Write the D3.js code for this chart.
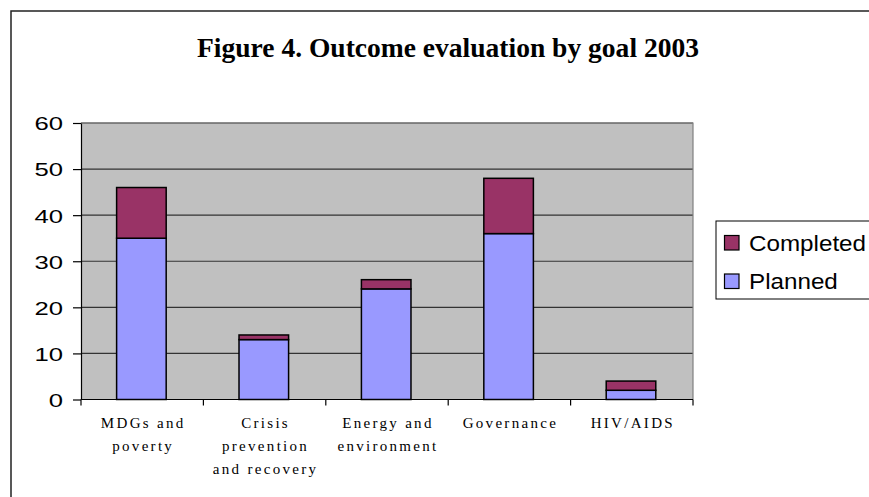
<!DOCTYPE html>
<html><head><meta charset="utf-8">
<script src="https://cdn.jsdelivr.net/npm/d3@7"></script>
<style>body{margin:0;background:#fff}svg{display:block}</style>
</head><body>
<script>
const categories = [["MDGs and","poverty"],["Crisis","prevention","and recovery"],["Energy and","environment"],["Governance"],["HIV/AIDS"]];
const planned   = [35, 13, 24, 36, 2];
const completed = [11, 1, 2, 12, 2];
const yTicks = [0,10,20,30,40,50,60];
const seriesNames = ["Completed","Planned"];
const titleText = "Figure 4. Outcome evaluation by goal 2003";

const W = 869, H = 497;
const svg = d3.select("body").append("svg").attr("width", W).attr("height", H);
svg.append("rect").attr("x",11).attr("y",11).attr("width",950).attr("height",600)
  .attr("fill","#fff").attr("stroke","#222").attr("stroke-width",1.5);

const L = 81, R = 693, T = 123, B = 399.5;
const x = d3.scaleBand().domain(d3.range(categories.length)).range([L, R]).padding(0);
const y = d3.scaleLinear().domain([0, 60]).range([B, T]);

svg.append("rect").attr("x",L).attr("y",T).attr("width",R-L).attr("height",B-T).attr("fill","#C0C0C0");

// grid
svg.append("g").selectAll("line").data(yTicks.filter(d=>d>0)).join("line")
  .attr("x1",L).attr("x2",R).attr("y1",d=>y(d)).attr("y2",d=>y(d))
  .attr("stroke","#333").attr("stroke-width",1.2);
// plot border top & right
svg.append("path").attr("d",`M${L},${T}H${R}V${B}`).attr("fill","none").attr("stroke","#808080").attr("stroke-width",1.2);

// bars
const bw = x.bandwidth()*0.405;
const colors = {Completed:"#993366", Planned:"#9999FF"};
const stackData = planned.map((p,i)=>({i, p, c: completed[i]}));
const g = svg.append("g");
stackData.forEach(d=>{
  const cx = x(d.i) + x.bandwidth()/2 - 0.8;
  g.append("rect").attr("x",cx-bw/2).attr("width",bw).attr("y",y(d.p)).attr("height",y(0)-y(d.p))
    .attr("fill",colors.Planned).attr("stroke","#000").attr("stroke-width",1.5);
  g.append("rect").attr("x",cx-bw/2).attr("width",bw).attr("y",y(d.p+d.c)).attr("height",y(d.p)-y(d.p+d.c))
    .attr("fill",colors.Completed).attr("stroke","#000").attr("stroke-width",1.5);
});

// y axis
const ya = svg.append("g").attr("transform",`translate(${L},0)`)
  .call(d3.axisLeft(y).tickValues(yTicks).tickSize(8).tickPadding(10).tickSizeOuter(0));
ya.select(".domain").attr("stroke","#000").attr("stroke-width",1.2);
ya.selectAll(".tick line").attr("stroke","#000").attr("stroke-width",1.2);
ya.selectAll("text").attr("font-family","'Liberation Sans', Arial, sans-serif").attr("font-size",19).attr("fill","#000")
  .attr("dy","0.36em")
  .each(function(){ const l=this.getComputedTextLength(); d3.select(this).attr("textLength",l*1.35).attr("lengthAdjust","spacingAndGlyphs"); });

// x axis
svg.append("line").attr("x1",L).attr("x2",R).attr("y1",B).attr("y2",B).attr("stroke","#000").attr("stroke-width",1.2);
const bounds = d3.range(categories.length+1).map(i=> i<categories.length ? x(i) : R);
svg.append("g").selectAll("line").data(bounds).join("line")
  .attr("x1",d=>d).attr("x2",d=>d).attr("y1",B).attr("y2",B+6).attr("stroke","#000").attr("stroke-width",1.2);
const xl = svg.append("g");
categories.forEach((lines,i)=>{
  const t = xl.append("text").attr("x", x(i)+x.bandwidth()/2 + 1).attr("y", 428)
    .attr("text-anchor","middle").attr("font-family","'Liberation Serif','Times New Roman',serif")
    .attr("font-size",15).attr("letter-spacing","2.3px").attr("fill","#000");
  lines.forEach((s,k)=> t.append("tspan").attr("x", x(i)+x.bandwidth()/2 + 1).attr("y", 428 + k*23).text(s));
});

// title
svg.append("text").attr("x",448).attr("y",56.7).attr("text-anchor","middle")
  .attr("font-family","'Liberation Serif','Times New Roman',serif").attr("font-weight","bold")
  .attr("font-size",27).attr("textLength",502).attr("lengthAdjust","spacingAndGlyphs").text(titleText);

// legend
const lg = svg.append("g");
lg.append("rect").attr("x",716).attr("y",221).attr("width",200).attr("height",78)
  .attr("fill","#fff").attr("stroke","#000").attr("stroke-width",1);
seriesNames.forEach((n,k)=>{
  lg.append("rect").attr("x",724.5).attr("y",235.5+k*38.5).attr("width",14.5).attr("height",14.5)
    .attr("fill",colors[n]).attr("stroke","#000").attr("stroke-width",1.2);
  lg.append("text").attr("x",749).attr("y",250.5+k*38.5).attr("font-family","'Liberation Sans', Arial, sans-serif")
    .attr("font-size",22).attr("fill","#000").text(n)
    .each(function(){ const l=this.getComputedTextLength(); d3.select(this).attr("textLength",l*1.1).attr("lengthAdjust","spacingAndGlyphs"); });
});
</script>
</body></html>
